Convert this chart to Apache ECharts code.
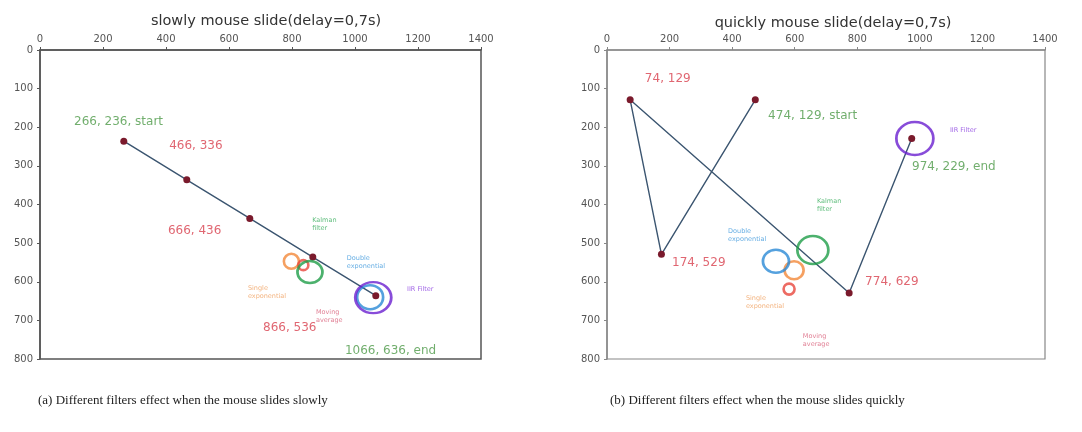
<!DOCTYPE html>
<html>
<head>
<meta charset="utf-8">
<script src="https://cdn.jsdelivr.net/npm/echarts@6/dist/echarts.min.js"></script>
<style>
  html, body { margin: 0; padding: 0; background: #fff; }
  #chart { width: 1082px; height: 432px; }
</style>
</head>
<body>
<div id="chart"></div>
<script>
// mouse path, in screen coords (x right, y down)
var slowPath = [[266, 236], [466, 336], [666, 436], [866, 536], [1066, 636]];
var quickPath = [[474, 129], [174, 529], [74, 129], [774, 629], [974, 229]];

// filter outputs: single exp, moving avg, kalman, double exp, IIR
var filterNames = ['Single\nexponential', 'Moving\naverage', 'Kalman\nfilter', 'Double\nexponential', 'IIR Filter'];
var slowFilters = [[798, 547], [836, 557], [857, 575], [1048, 640], [1058, 641]];
var quickFilters = [[598, 570], [582, 619], [658, 518], [540, 547], [984, 229]];

// where the texts sit (data coords)
var slowPointText = [[108, 186, '266, 236, start'], [410, 249, '466, 336'], [406, 469, '666, 436'], [708, 720, '866, 536'], [968, 780, '1066, 636, end']];
var quickPointText = [[121, 75, '74, 129'], [515, 171, '474, 129, start'], [208, 552, '174, 529'], [825, 601, '774, 629'], [975, 303, '974, 229, end']];
var slowFilterText = [[660, 627], [876, 689], [864, 451], [974, 549], [1165, 619]];
var quickFilterText = [[444, 653], [626, 751], [671, 402], [387, 479], [1096, 209]];

var xTicks = [0, 200, 400, 600, 800, 1000, 1200, 1400];
var yTicks = [0, 100, 200, 300, 400, 500, 600, 700, 800];

var filterColors = ['#f2883a', '#e8463c', '#1f9e48', '#2b8ad6', '#6a1fd0'];
var filterTextColors = ['#f0a060', '#d9607a', '#3aae5e', '#3f98dc', '#8a3ee0'];
var slowSizes = [[15, 15], [10, 10], [25, 22], [26, 24], [36, 31]];
var quickSizes = [[19, 18], [11, 11], [31, 28], [26, 23], [37, 33]];

var font = 'DejaVu Sans';
var myChart = echarts.init(document.getElementById('chart'));

function pointColor(t) {
    return /start|end/.test(t) ? '#4e9a48' : '#d8404e';
}

function axes(gi, frame) {
    var xa = {
        type: 'value', gridIndex: gi, position: 'top',
        min: xTicks[0], max: xTicks[xTicks.length - 1], interval: 200,
        axisLine: { show: true, lineStyle: { color: frame, width: 1.5 } },
        axisTick: { show: true, inside: false, length: 3, lineStyle: { color: frame } },
        axisLabel: { color: '#555', fontSize: 10, fontFamily: font, margin: 6,
                     formatter: function (v) { return String(v); } },
        splitLine: { show: false }
    };
    var ya = {
        type: 'value', gridIndex: gi, inverse: true,
        min: yTicks[0], max: yTicks[yTicks.length - 1], interval: 100,
        axisLine: { show: true, lineStyle: { color: frame, width: 1.5 } },
        axisTick: { show: true, inside: false, length: 3, lineStyle: { color: frame } },
        axisLabel: { color: '#555', fontSize: 10, fontFamily: font, margin: 7,
                     formatter: function (v) { return String(v); } },
        splitLine: { show: false }
    };
    return [xa, ya];
}

function seriesFor(gi, path, filters, sizes, pointText, filterText) {
    var out = [];
    out.push({
        type: 'line', xAxisIndex: gi, yAxisIndex: gi, z: 2,
        data: path,
        symbol: 'circle', symbolSize: 7,
        itemStyle: { color: '#7a1a2c' },
        lineStyle: { color: '#3b5570', width: 1.4 },
        animation: false
    });
    filters.forEach(function (c, i) {
        out.push({
            type: 'scatter', xAxisIndex: gi, yAxisIndex: gi, z: 3,
            data: [c],
            symbol: 'circle', symbolSize: sizes[i],
            itemStyle: { color: 'rgba(0,0,0,0)', borderColor: filterColors[i], borderWidth: 2.6 },
            animation: false
        });
    });
    out.push({
        type: 'scatter', xAxisIndex: gi, yAxisIndex: gi, z: 4,
        symbolSize: 0,
        data: pointText.map(function (p) {
            return { value: [p[0], p[1]], name: p[2], label: { color: pointColor(p[2]) } };
        }),
        label: { show: true, position: 'right', distance: 0, formatter: '{b}', fontSize: 12, fontFamily: font },
        animation: false
    });
    out.push({
        type: 'scatter', xAxisIndex: gi, yAxisIndex: gi, z: 4,
        symbolSize: 0,
        data: filterText.map(function (p, i) {
            return { value: p, name: filterNames[i], label: { color: filterTextColors[i] } };
        }),
        label: { show: true, position: 'right', distance: 0, formatter: '{b}', fontSize: 6.5, lineHeight: 8, fontFamily: font },
        animation: false
    });
    return out;
}

var a0 = axes(0, '#555');
var a1 = axes(1, '#888');

var option = {
    backgroundColor: '#fff',
    animation: false,
    title: [
        { text: 'slowly mouse slide(delay=0,7s)', left: 261, top: 9, textAlign: 'center',
          textStyle: { fontSize: 14.5, fontWeight: 'normal', color: '#333', fontFamily: font } },
        { text: 'quickly mouse slide(delay=0,7s)', left: 828, top: 11, textAlign: 'center',
          textStyle: { fontSize: 14.5, fontWeight: 'normal', color: '#333', fontFamily: font } }
    ],
    grid: [
        { left: 40, top: 50, width: 441, height: 309, show: true, borderColor: '#555', borderWidth: 1.5, backgroundColor: '#fff' },
        { left: 607, top: 50, width: 438, height: 309, show: true, borderColor: '#888', borderWidth: 1.2, backgroundColor: '#fff' }
    ],
    xAxis: [a0[0], a1[0]],
    yAxis: [a0[1], a1[1]],
    series: seriesFor(0, slowPath, slowFilters, slowSizes, slowPointText, slowFilterText)
        .concat(seriesFor(1, quickPath, quickFilters, quickSizes, quickPointText, quickFilterText)),
    graphic: [
        { type: 'text', left: 38, top: 394,
          style: { text: '(a) Different filters effect when the mouse slides slowly', fontSize: 13, fontFamily: 'Liberation Serif', fill: '#222' } },
        { type: 'text', left: 610, top: 394,
          style: { text: '(b) Different filters effect when the mouse slides quickly', fontSize: 13, fontFamily: 'Liberation Serif', fill: '#222' } }
    ]
};

myChart.setOption(option);
</script>
</body>
</html>
